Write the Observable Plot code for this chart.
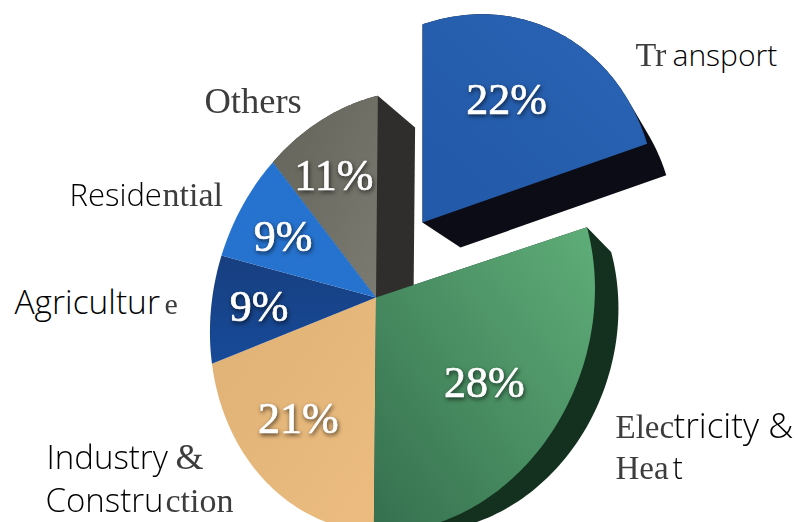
<!DOCTYPE html>
<html>
<head>
<meta charset="utf-8">
<script src="https://cdn.jsdelivr.net/npm/d3@7"></script>
<script src="https://cdn.jsdelivr.net/npm/@observablehq/plot@0.6"></script>
<style>
  html, body { margin: 0; padding: 0; background: #fff; overflow: hidden; }
</style>
</head>
<body>
<div id="chart"></div>
<script>
// CO2 emissions by sector, in percent, clockwise from twelve o'clock.
const sectors = ["Transport", "Electricity & Heat", "Industry & Construction", "Agriculture", "Residential", "Others"];
const shares = [22, 28, 21, 9, 9, 11];
const shareLabels = ["22%", "28%", "21%", "9%", "9%", "11%"];

// Small optical shifts of the percent labels away from their mid-angle spot.
const nudgeX = [3, 4, -3, -5, -2, -5];
const nudgeY = [0, -2, 4, 2, 2, -2];

// Face and wall paints for each slice.
const faceColors = ["url(#faceTransport)", "url(#faceGreen)", "url(#faceSand)", "url(#faceNavy)", "#2673cf", "url(#faceGrey)"];
const wallColors = ["#0c0c16", "#14301f", null, null, null, "#2f2e2c"];

// Outer captions are split into sans and serif runs.
const sansRuns = [
  {text: "ansport", x: 672, y: 65, size: 30},
  {text: "tricity &", x: 673, y: 437, size: 35},
  {text: "t", x: 672, y: 478, size: 31},
  {text: "Reside", x: 69, y: 205, size: 31},
  {text: "Agricultur", x: 14, y: 313, size: 33.5},
  {text: "Industry", x: 46, y: 468, size: 33},
  {text: "Constru", x: 45, y: 511, size: 33}
];
const serifRuns = [
  {text: "Tr", x: 635, y: 65, size: 34},
  {text: "Elec", x: 615, y: 437, size: 33},
  {text: "Hea", x: 615, y: 478, size: 33},
  {text: "ntial", x: 162, y: 205, size: 34},
  {text: "Others", x: 204, y: 112, size: 36.5},
  {text: "e", x: 164, y: 313, size: 30},
  {text: "&", x: 175, y: 468, size: 36},
  {text: "ction", x: 165, y: 511, size: 34}
];

// Perspective tilt of the pie; Transport is pulled out and Electricity sits slightly apart.
const hub = [375.5, 297];
const vanish = [874, 520];
const tilt = {a: 187, b: 2, c: -20, d: -217, p: -0.13, q: 0.0755};
const tiltBySector = {
  "Transport": {...tilt, b: 0, c: -25, d: -213, p: -0.2},
  "Electricity & Heat": {...tilt, a: 190, c: -22}
};
const tiltFor = sector => tiltBySector[sector] || tilt;
const hubFor = sector => sector === "Transport" ? [422, 222] : hub;
const depthFor = sector => sector === "Others" ? 0.075 : 0.084;

function project(theta, r, sector) {
  const t = tiltFor(sector), [cx, cy] = hubFor(sector);
  const u = r * Math.sin(theta), v = r * Math.cos(theta);
  const w = 1 + t.p * u + t.q * v;
  return [cx + (t.a * u + t.b * v) / w, cy + (t.c * u + t.d * v) / w];
}

const arcs = d3.pie().sort(null)(shares);

function facePoints(i) {
  const sector = sectors[i], {startAngle, endAngle} = arcs[i];
  const steps = Math.ceil((endAngle - startAngle) / 0.02);
  const pts = [project(0, 0, sector)];
  for (let k = 0; k <= steps; ++k) pts.push(project(startAngle + (endAngle - startAngle) * k / steps, 1, sector));
  return pts;
}

// The wall is the hull of a slice and its copy pushed toward the vanishing point.
function wallPoints(i) {
  const depth = depthFor(sectors[i]);
  const face = facePoints(i);
  const back = face.map(([x, y]) => [x + (vanish[0] - x) * depth, y + (vanish[1] - y) * depth]);
  return d3.polygonHull(face.concat(back));
}

const toRows = pts => pts.map(([x, y]) => ({x, y}));
const sliceMark = (pts, fill) => Plot.line(toRows(pts), {x: "x", y: "y", fill, stroke: "none", curve: "linear"});

const shareRows = shares.map((share, i) => {
  const mid = (arcs[i].startAngle + arcs[i].endAngle) / 2;
  const [x, y] = project(mid, 0.65, sectors[i]);
  return {x: x + nudgeX[i], y: y + nudgeY[i], label: shareLabels[i]};
});

function gradients() {
  const defs = d3.create("svg:defs");
  const stops = [
    ["faceGreen", 0, 1, 1, 0, "#356f4e", "#5fae78"],
    ["faceTransport", 0, 1, 1, 0, "#2259a8", "#2a64b4"],
    ["faceSand", 0, 0, 1, 1, "#e0b176", "#ecbd7f"],
    ["faceNavy", 0, 0, 0, 1, "#173f80", "#174a98"],
    ["faceGrey", 0, 0, 1, 1, "#646359", "#7c7b72"]
  ];
  for (const [id, x1, y1, x2, y2, from, to] of stops) {
    const g = defs.append("linearGradient").attr("id", id)
      .attr("x1", x1).attr("y1", y1).attr("x2", x2).attr("y2", y2);
    g.append("stop").attr("offset", 0).attr("stop-color", from);
    g.append("stop").attr("offset", 1).attr("stop-color", to);
  }
  return defs.node();
}

const drawOrder = [5, 2, 3, 4];
const chart = Plot.plot({
  width: 798,
  height: 522,
  margin: 0,
  clip: true,
  style: {background: "#fff", overflow: "hidden"},
  x: {domain: [0, 798], range: [0, 798], axis: null},
  y: {domain: [0, 522], range: [0, 522], axis: null},
  marks: [
    gradients,
    sliceMark(wallPoints(5), wallColors[5]),
    ...drawOrder.map(i => sliceMark(facePoints(i), faceColors[i])),
    sliceMark(wallPoints(1), wallColors[1]),
    sliceMark(facePoints(1), faceColors[1]),
    sliceMark(wallPoints(0), wallColors[0]),
    sliceMark(facePoints(0), faceColors[0]),
    Plot.text(shareRows, {
      x: "x", y: "y", text: "label",
      fontFamily: "Liberation Serif", fontSize: 44, fill: "#fff",
      stroke: "#fff", strokeWidth: 0.7,
      imageFilter: "drop-shadow(1px 2px 2px rgba(0,0,0,0.65))"
    }),
    Plot.text(serifRuns, {
      x: "x", y: "y", text: "text", fontSize: "size", textAnchor: "start", lineAnchor: "bottom",
      fontFamily: "Liberation Serif", fill: "#3d3d3d",
      imageFilter: "blur(0.5px)"
    }),
    Plot.text(sansRuns, {
      x: "x", y: "y", text: "text", fontSize: "size", textAnchor: "start", lineAnchor: "bottom",
      fontFamily: "Open Sans", fontWeight: 300, fill: "#000"
    })
  ]
});
document.getElementById("chart").append(chart);
</script>
</body>
</html>
